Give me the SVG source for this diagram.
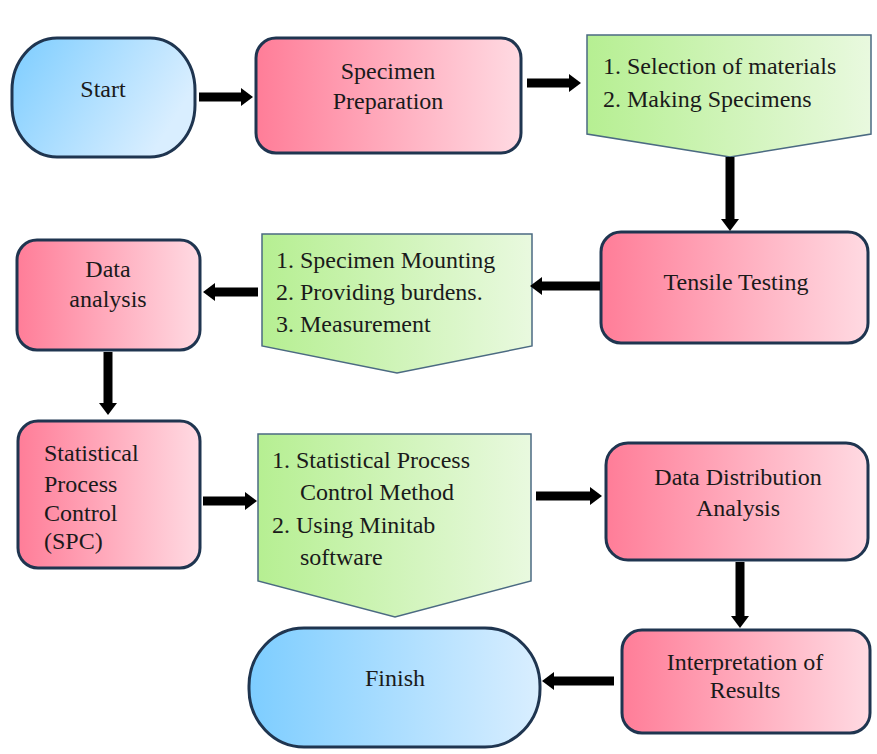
<svg xmlns="http://www.w3.org/2000/svg" width="877" height="754" viewBox="0 0 877 754">
<defs>
<linearGradient id="gBlue" x1="0" y1="0" x2="1" y2="0.4"><stop offset="0" stop-color="#7dcdff"/><stop offset="1" stop-color="#d9eeff"/></linearGradient>
<linearGradient id="gBlue2" x1="0" y1="0" x2="1" y2="0"><stop offset="0" stop-color="#7dcdff"/><stop offset="1" stop-color="#d9eeff"/></linearGradient>
<linearGradient id="gPink" x1="0" y1="0" x2="1" y2="0"><stop offset="0" stop-color="#ff7d98"/><stop offset="1" stop-color="#ffdae2"/></linearGradient>
<linearGradient id="gGreen" x1="0" y1="0" x2="1" y2="0"><stop offset="0" stop-color="#b6ef92"/><stop offset="1" stop-color="#e9f9df"/></linearGradient>
<marker id="ah" markerUnits="userSpaceOnUse" markerWidth="12" markerHeight="18" viewBox="0 0 12 18" refX="1" refY="9" orient="auto"><path d="M0,0 L12,9 L0,18 z" fill="#000"/></marker>
</defs>
<style>
.term{stroke:#1f3550;stroke-width:3}
.proc{fill:url(#gPink);stroke:#1f3550;stroke-width:3}
.list{fill:url(#gGreen);stroke:#4b6a82;stroke-width:1.5}
.t{font-family:"Liberation Serif","DejaVu Serif",serif;font-size:24px;fill:#1a1a1a}
.c{text-anchor:middle}
.arr{stroke:#000;stroke-width:9;fill:none;marker-end:url(#ah)}
</style>
<rect width="877" height="754" fill="#fff"/>
<g id="start">
<rect class="term" x="12" y="38" width="183" height="119" rx="45" ry="52" fill="url(#gBlue)"/>
<text class="t c" x="103" y="97">Start</text>
</g>
<g id="specimen-preparation">
<rect class="proc" x="256" y="38" width="265" height="115" rx="20"/>
<text class="t c" x="388" y="79">Specimen</text>
<text class="t c" x="388" y="109">Preparation</text>
</g>
<g id="materials-list">
<path class="list" d="M587,35 L871,35 L871,134 L730,157 L587,134 Z"/>
<text class="t" x="603" y="74">1. Selection of materials</text>
<text class="t" x="603" y="107">2. Making Specimens</text>
</g>
<g id="tensile-testing">
<rect class="proc" x="601" y="232" width="267" height="111" rx="20"/>
<text class="t c" x="736" y="290">Tensile Testing</text>
</g>
<g id="testing-list">
<path class="list" d="M262,234 L532,234 L532,346 L397,373 L262,346 Z"/>
<text class="t" x="276" y="268">1. Specimen Mounting</text>
<text class="t" x="276" y="300">2. Providing  burdens.</text>
<text class="t" x="276" y="332">3. Measurement</text>
</g>
<g id="data-analysis">
<rect class="proc" x="17" y="240" width="183" height="110" rx="20"/>
<text class="t c" x="108" y="277">Data</text>
<text class="t c" x="108" y="307">analysis</text>
</g>
<g id="spc">
<rect class="proc" x="18" y="421" width="182" height="147" rx="20"/>
<text class="t" x="44" y="461">Statistical</text>
<text class="t" x="44" y="492">Process</text>
<text class="t" x="44" y="521">Control</text>
<text class="t" x="44" y="549">(SPC)</text>
</g>
<g id="spc-list">
<path class="list" d="M258,434 L531,434 L531,581 L395,617 L258,581 Z"/>
<text class="t" x="272" y="468">1. Statistical Process</text>
<text class="t" x="300" y="500">Control Method</text>
<text class="t" x="272" y="533">2. Using Minitab</text>
<text class="t" x="300" y="565">software</text>
</g>
<g id="data-distribution">
<rect class="proc" x="606" y="443" width="262" height="117" rx="22"/>
<text class="t c" x="738" y="485">Data Distribution</text>
<text class="t c" x="738" y="516">Analysis</text>
</g>
<g id="interpretation">
<rect class="proc" x="622" y="630" width="248" height="103" rx="20"/>
<text class="t c" x="745" y="670">Interpretation of</text>
<text class="t c" x="745" y="698">Results</text>
</g>
<g id="finish">
<rect class="term" x="249" y="628" width="291" height="119" rx="55" ry="58" fill="url(#gBlue2)"/>
<text class="t c" x="395" y="686">Finish</text>
</g>
<g id="connectors">
<line class="arr" x1="199" y1="97" x2="242" y2="97"/>
<line class="arr" x1="527" y1="83" x2="570" y2="83"/>
<line class="arr" x1="730" y1="157" x2="730" y2="220"/>
<line class="arr" x1="600" y1="286" x2="541" y2="286"/>
<line class="arr" x1="258" y1="292" x2="214" y2="292"/>
<line class="arr" x1="108" y1="352" x2="108" y2="404"/>
<line class="arr" x1="203" y1="501" x2="246" y2="501"/>
<line class="arr" x1="536" y1="496" x2="591" y2="496"/>
<line class="arr" x1="740" y1="562" x2="740" y2="617"/>
<line class="arr" x1="614" y1="681" x2="553" y2="681"/>
</g>
</svg>
